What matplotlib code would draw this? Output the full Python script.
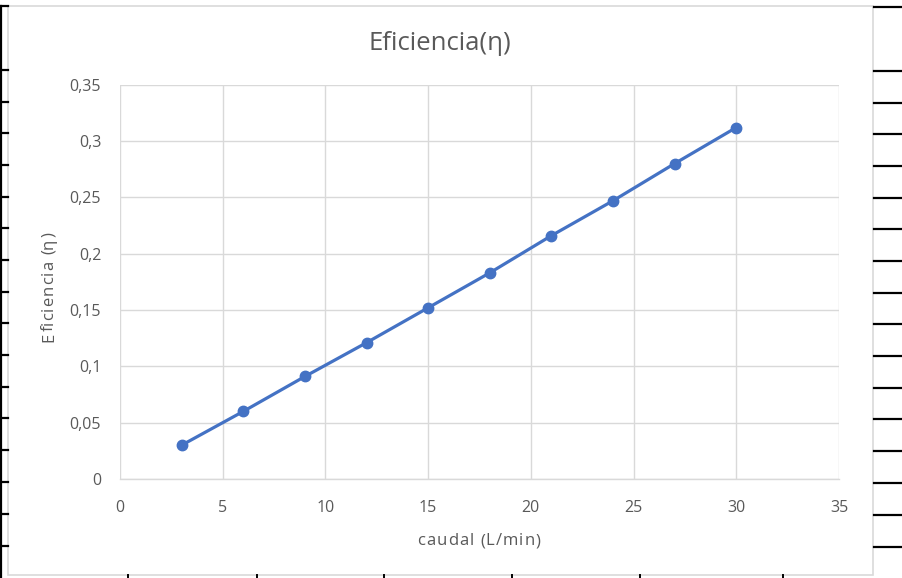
import matplotlib
matplotlib.use("Agg")
import matplotlib.pyplot as plt
from matplotlib.lines import Line2D
from matplotlib.patches import Rectangle
from matplotlib.ticker import FuncFormatter

# Data: efficiency versus flow rate
caudal = [3, 6, 9, 12, 15, 18, 21, 24, 27, 30]
eficiencia = [0.030, 0.060, 0.091, 0.121, 0.152, 0.183, 0.216, 0.247, 0.280, 0.312]
x_ticks = [0, 5, 10, 15, 20, 25, 30, 35]
y_ticks = [0, 0.05, 0.1, 0.15, 0.2, 0.25, 0.3, 0.35]

title = "Eficiencia(η)"
x_label = "caudal (L/min)"
y_label = "Eficiencia (η)"

FONT = ["Open Sans", "DejaVu Sans"]
TEXT = "#595959"
GRID = "#d9d9d9"
LINE = "#4472C4"

W, H = 903, 578
fig = plt.figure(figsize=(W / 100, H / 100), dpi=100)
fig.patch.set_facecolor("white")


def fx(px):
    return px / W


def fy(py):
    return 1 - py / H


def draw_tracked(s, cx, cy, size, extra, rotation=0):
    """Draw a string centred on (cx, cy) in pixels with extra letter spacing."""
    r = fig.canvas.get_renderer()

    def width(t):
        tt = fig.text(0, 0, t, fontsize=size, family=FONT)
        w = tt.get_window_extent(r).width
        tt.remove()
        return w

    total = width(s) + (len(s) - 1) * extra
    for i, ch in enumerate(s):
        if ch == " ":
            continue
        off = width(s[:i + 1]) - width(ch) + i * extra - total / 2
        if rotation == 0:
            x, y = cx + off, cy
        else:
            x, y = cx, cy - off
        fig.text(fx(x), fy(y), ch, fontsize=size, family=FONT, color=TEXT,
                 ha="left", va="baseline", rotation=rotation, rotation_mode="anchor")


# Spreadsheet cell borders around the chart object
sheet_lines = [6, 70, 102, 133, 165, 197, 228, 260, 292, 323, 355, 387, 418, 450, 482, 514, 546]
for yy in sheet_lines:
    fig.add_artist(Line2D([fx(0), fx(8)], [fy(yy), fy(yy)], color="black", lw=1.6))
    fig.add_artist(Line2D([fx(874), fx(903)], [fy(yy + 1), fy(yy + 1)], color="black", lw=1.6))
fig.add_artist(Line2D([fx(1.5), fx(1.5)], [fy(6), fy(578)], color="black", lw=1.6))
for xx in [128, 257, 384, 512, 640, 783]:
    fig.add_artist(Line2D([fx(xx), fx(xx)], [fy(575), fy(578)], color="black", lw=1.4))

# Chart object frame
fig.add_artist(Rectangle((fx(8), fy(575)), fx(873) - fx(8), fy(6) - fy(575),
                         facecolor="white", edgecolor=GRID, lw=1.2, zorder=0))

# Plot area
left, right, top, bottom = 120, 839, 84.7, 479
ax = fig.add_axes([fx(left), fy(bottom), fx(right) - fx(left), fy(top) - fy(bottom)])
ax.set_xlim(0, 35)
ax.set_ylim(0, 0.35)
ax.set_xticks(x_ticks)
ax.set_yticks(y_ticks)
ax.grid(True, color=GRID, lw=1.0)
ax.set_axisbelow(True)
for name, sp in ax.spines.items():
    if name == "bottom":
        sp.set_color(GRID)
        sp.set_linewidth(1.0)
    else:
        sp.set_visible(False)
ax.tick_params(length=0, labelsize=11.5, labelcolor=TEXT)
ax.tick_params(axis="x", pad=15)
ax.tick_params(axis="y", pad=13.5)


def comma_fmt(v, _):
    s = ("%.2f" % v).rstrip("0").rstrip(".")
    return s.replace(".", ",")


ax.yaxis.set_major_formatter(FuncFormatter(comma_fmt))
for lab in ax.get_xticklabels() + ax.get_yticklabels():
    lab.set_family(FONT)

ax.plot(caudal, eficiencia, color=LINE, lw=2.3, marker="o", markersize=7.5,
        markerfacecolor=LINE, markeredgecolor=LINE, solid_capstyle="round", clip_on=False)

fig.text(fx(440), fy(44), title, ha="center", va="center", fontsize=18.5,
         color=TEXT, family=FONT)
draw_tracked(x_label, 479, 545, 12, 1.0)
draw_tracked(y_label, 53, 287, 12, 1.0, rotation=90)

fig.savefig("out.png", dpi=100, facecolor="white")
